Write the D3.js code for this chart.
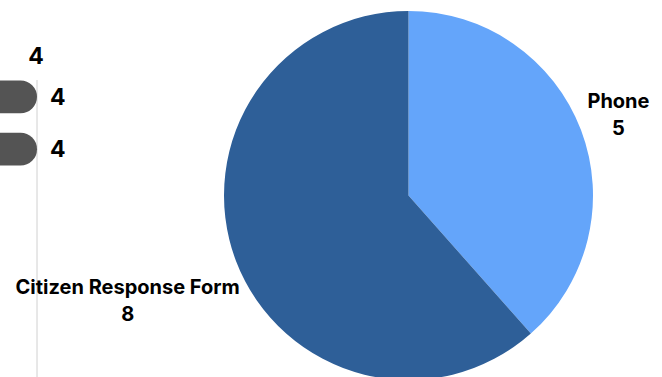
<!DOCTYPE html>
<html>
<head>
<meta charset="utf-8">
<script src="https://cdn.jsdelivr.net/npm/d3@7"></script>
<style>
  body { margin: 0; background: #fff; }
  text { font-family: Inter, sans-serif; font-weight: 700; fill: #000; }
</style>
</head>
<body>
<div id="container"></div>
<script>
// pie data
let sources = ["Phone", "Citizen Response Form"];
let counts = [5, 8];
let sliceColors = ["#64A5FA", "#2E5F98"];

// the bar chart that is cut off on the left
let barNames = ["a", "b"];
let barValues = [4, 4];
let topValue = 4;

let svgWidth = 662;
let svgHeight = 377;

let viz = d3.select("#container")
  .append("svg")
    .attr("width", svgWidth)
    .attr("height", svgHeight);

// ---- partial bar chart ----
let xBar = d3.scaleLinear().domain([0, 4]).range([-160, 37]);
let yBar = d3.scaleBand().domain(barNames).range([71, 175]).paddingInner(0.37).paddingOuter(0.18);

viz.append("line")
  .attr("x1", xBar(4)).attr("x2", xBar(4))
  .attr("y1", 80).attr("y2", svgHeight)
  .attr("stroke", "#d0d0d0")
  .attr("stroke-width", 1);

let bh = yBar.bandwidth();
viz.selectAll("path.bar").data(barNames).enter().append("path")
  .attr("class", "bar")
  .attr("fill", "#545454")
  .attr("d", (d, i) => {
    let x0 = xBar(0), x1 = xBar(barValues[i]), y0 = yBar(d), r = bh / 2;
    return `M${x0},${y0}H${x1 - r}A${r},${r} 0 0 1 ${x1 - r},${y0 + bh}H${x0}Z`;
  });

viz.selectAll("text.barlab").data(barNames).enter().append("text")
  .attr("class", "barlab")
  .attr("x", (d, i) => xBar(barValues[i]) + 13)
  .attr("y", d => yBar(d) + bh / 2)
  .attr("dy", "0.36em")
  .style("font-size", "23px")
  .text((d, i) => barValues[i]);

viz.append("text")
  .attr("x", xBar(4) - 1)
  .attr("y", 56)
  .attr("dy", "0.36em")
  .attr("text-anchor", "middle")
  .style("font-size", "23px")
  .text(topValue);

// ---- pie ----
let cx = 408.5, cy = 195.5, radius = 184.5;
let g = viz.append("g").attr("transform", `translate(${cx},${cy})`);

let pie = d3.pie().sort(null).value(d => d);
let arcs = pie(counts);
let arc = d3.arc().innerRadius(0).outerRadius(radius);

g.selectAll("path.slice").data(arcs).enter().append("path")
  .attr("class", "slice")
  .attr("d", arc)
  .attr("fill", (d, i) => sliceColors[i]);

// labels sit outside, pushed out by half their width
let labels = g.selectAll("g.lab").data(arcs).enter().append("g").attr("class", "lab");
labels.append("text")
  .attr("text-anchor", "middle")
  .attr("y", -13.5)
  .attr("dy", "0.36em")
  .style("font-size", "20px")
  .text((d, i) => sources[i]);
labels.append("text")
  .attr("text-anchor", "middle")
  .attr("y", 13.5)
  .attr("dy", "0.36em")
  .style("font-size", "20px")
  .text((d, i) => counts[i]);

labels.attr("transform", function(d) {
  let w = this.getBBox().width;
  let a = (d.startAngle + d.endAngle) / 2;
  let R = radius + 11 + (w / 2) * Math.abs(Math.sin(a));
  return `translate(${R * Math.sin(a)},${-R * Math.cos(a) - 1.5})`;
});
</script>
</body>
</html>
